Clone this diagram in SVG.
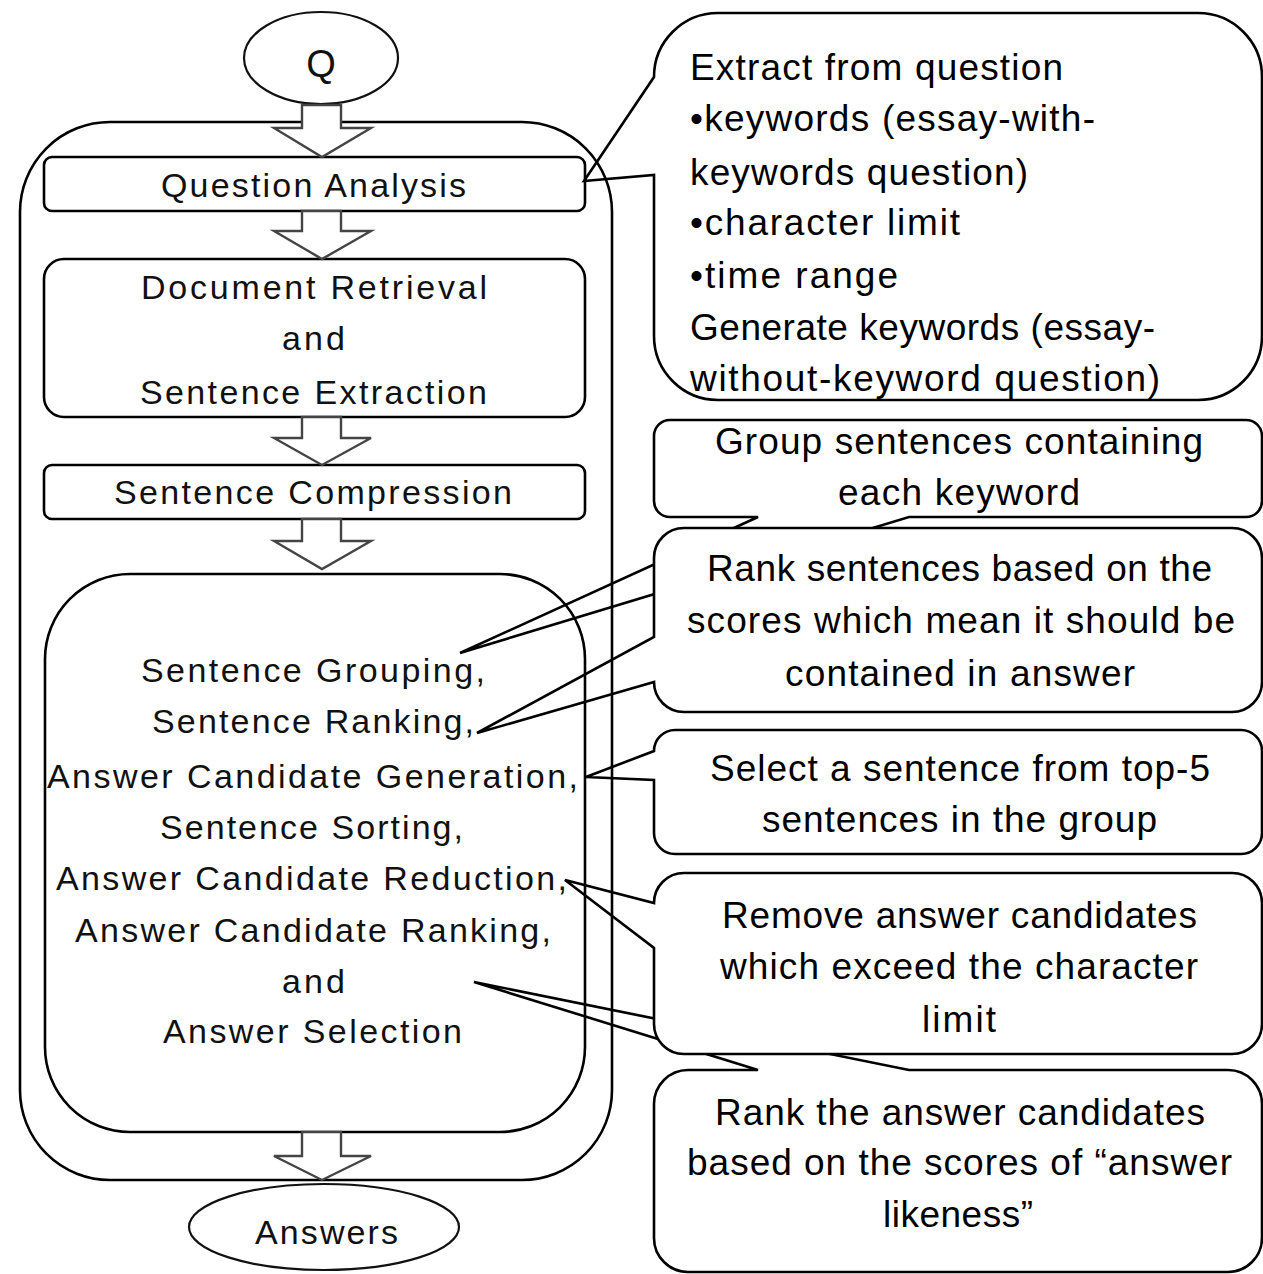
<svg xmlns="http://www.w3.org/2000/svg" width="1263" height="1274" viewBox="0 0 1263 1274">
<style>
.bg{fill:#fff}
.box{fill:none;stroke:#000;stroke-width:2.6}
.ell{fill:#fff;stroke:#111;stroke-width:2.2}
.callout{fill:#fff;stroke:#000;stroke-width:2.6;stroke-linejoin:miter}
.arrow{fill:#fff;stroke:#444;stroke-width:2.4;stroke-linejoin:miter}
.t{font-family:"Liberation Sans",Arial,sans-serif;font-size:34px;fill:#111}
.c{font-family:"Liberation Sans",Arial,sans-serif;font-size:37px;fill:#000}
</style>
<rect class="bg" x="0" y="0" width="1263" height="1274"/>

<!-- Callouts (drawn first, flowchart lines on top) -->
<g id="callout-extract">
  <path class="callout" d="M718,13 H1198 A64,64 0 0 1 1262,77 V336 A64,64 0 0 1 1198,400 H718 A64,64 0 0 1 654,336 V175 L584,181 L654,77 A64,64 0 0 1 718,13 Z"/>
  <text class="c" x="690" y="80" textLength="373" lengthAdjust="spacing">Extract from question</text>
  <text class="c" x="690" y="131" textLength="405" lengthAdjust="spacing">•keywords (essay-with-</text>
  <text class="c" x="690" y="185" textLength="338" lengthAdjust="spacing">keywords question)</text>
  <text class="c" x="690" y="235" textLength="270" lengthAdjust="spacing">•character limit</text>
  <text class="c" x="690" y="288" textLength="208" lengthAdjust="spacing">•time range</text>
  <text class="c" x="690" y="340" textLength="465" lengthAdjust="spacing">Generate keywords (essay-</text>
  <text class="c" x="690" y="391" textLength="470" lengthAdjust="spacing">without-keyword question)</text>
</g>
<g id="callout-group">
  <path class="callout" d="M670,420 H1246 A16,16 0 0 1 1262,436 V501 A16,16 0 0 1 1246,517 H909 L460,653 L758,517 H670 A16,16 0 0 1 654,501 V436 A16,16 0 0 1 670,420 Z"/>
  <text class="c" x="715" y="454" textLength="488" lengthAdjust="spacing">Group sentences containing</text>
  <text class="c" x="838" y="505" textLength="242" lengthAdjust="spacing">each keyword</text>
</g>
<g id="callout-rank-sentences">
  <path class="callout" d="M684,528 H1232 A30,30 0 0 1 1262,558 V682 A30,30 0 0 1 1232,712 H684 A30,30 0 0 1 654,682 L477,733 L654,637 V558 A30,30 0 0 1 684,528 Z"/>
  <text class="c" x="707" y="581" textLength="505" lengthAdjust="spacing">Rank sentences based on the</text>
  <text class="c" x="687" y="633" textLength="548" lengthAdjust="spacing">scores which mean it should be</text>
  <text class="c" x="785" y="686" textLength="350" lengthAdjust="spacing">contained in answer</text>
</g>
<g id="callout-select">
  <path class="callout" d="M675,730 H1241 A21,21 0 0 1 1262,751 V833 A21,21 0 0 1 1241,854 H675 A21,21 0 0 1 654,833 V780 L586,777 L654,751 A21,21 0 0 1 675,730 Z"/>
  <text class="c" x="710" y="781" textLength="500" lengthAdjust="spacing">Select a sentence from top-5</text>
  <text class="c" x="762" y="832" textLength="395" lengthAdjust="spacing">sentences in the group</text>
</g>
<g id="callout-rank-answers">
  <path class="callout" d="M688,1070 H758 L474,982 L909,1070 H1228 A34,34 0 0 1 1262,1104 V1238 A34,34 0 0 1 1228,1272 H688 A34,34 0 0 1 654,1238 V1104 A34,34 0 0 1 688,1070 Z"/>
  <text class="c" x="715" y="1125" textLength="490" lengthAdjust="spacing">Rank the answer candidates</text>
  <text class="c" x="687" y="1175" textLength="545" lengthAdjust="spacing">based on the scores of “answer</text>
  <text class="c" x="883" y="1227" textLength="150" lengthAdjust="spacing">likeness”</text>
</g>
<g id="callout-remove">
  <path class="callout" d="M684,873 H1232 A30,30 0 0 1 1262,903 V1024 A30,30 0 0 1 1232,1054 H684 A30,30 0 0 1 654,1024 V948 L565,880 L654,903 A30,30 0 0 1 684,873 Z"/>
  <text class="c" x="722" y="928" textLength="475" lengthAdjust="spacing">Remove answer candidates</text>
  <text class="c" x="720" y="979" textLength="478" lengthAdjust="spacing">which exceed the character</text>
  <text class="c" x="922" y="1032" textLength="74" lengthAdjust="spacing">limit</text>
</g>

<!-- Flowchart -->
<g id="system">
  <rect class="box" x="20" y="122" width="592" height="1058" rx="90" ry="90"/>
</g>
<g id="q">
  <ellipse class="ell" cx="321" cy="58" rx="77" ry="46"/>
  <text class="t" x="321" y="77" text-anchor="middle" style="font-size:38px">Q</text>
</g>
<g id="question-analysis">
  <rect class="box" x="44" y="157" width="541" height="54" rx="8" ry="8"/>
  <text class="t" x="161" y="197" textLength="305" lengthAdjust="spacing">Question Analysis</text>
</g>
<g id="document-retrieval">
  <rect class="box" x="44" y="259" width="541" height="158" rx="20" ry="20"/>
  <text class="t" x="141" y="299" textLength="346" lengthAdjust="spacing">Document Retrieval</text>
  <text class="t" x="282" y="350" textLength="63" lengthAdjust="spacing">and</text>
  <text class="t" x="140" y="404" textLength="347" lengthAdjust="spacing">Sentence Extraction</text>
</g>
<g id="sentence-compression">
  <rect class="box" x="44" y="465" width="541" height="54" rx="8" ry="8"/>
  <text class="t" x="114" y="504" textLength="398" lengthAdjust="spacing">Sentence Compression</text>
</g>
<g id="answer-generation">
  <rect class="box" x="45" y="574" width="540" height="558" rx="85" ry="85"/>
  <text class="t" x="141" y="682" textLength="344" lengthAdjust="spacing">Sentence Grouping,</text>
  <text class="t" x="152" y="733" textLength="322" lengthAdjust="spacing">Sentence Ranking,</text>
  <text class="t" x="47" y="788" textLength="531" lengthAdjust="spacing">Answer Candidate Generation,</text>
  <text class="t" x="160" y="839" textLength="303" lengthAdjust="spacing">Sentence Sorting,</text>
  <text class="t" x="56" y="890" textLength="511" lengthAdjust="spacing">Answer Candidate Reduction,</text>
  <text class="t" x="75" y="942" textLength="476" lengthAdjust="spacing">Answer Candidate Ranking,</text>
  <text class="t" x="282" y="993" textLength="63" lengthAdjust="spacing">and</text>
  <text class="t" x="163" y="1043" textLength="299" lengthAdjust="spacing">Answer Selection</text>
</g>
<g id="answers">
  <ellipse class="ell" cx="324" cy="1227" rx="135" ry="43"/>
  <text class="t" x="255" y="1244" textLength="143" lengthAdjust="spacing">Answers</text>
</g>

<!-- Connectors: hollow block arrows -->
<g id="connectors">
  <path class="arrow" d="M302,105 H341 V128 H371 L322,157 L274,128 H302 Z"/>
  <path class="arrow" d="M302,211 H341 V231 H371 L322,259 L274,231 H302 Z"/>
  <path class="arrow" d="M302,417 H341 V438 H371 L322,465 L274,438 H302 Z"/>
  <path class="arrow" d="M302,519 H341 V541 H371 L322,569 L274,541 H302 Z"/>
  <path class="arrow" d="M302,1132 H341 V1156 H371 L322,1180 L274,1156 H302 Z"/>
</g>
</svg>
